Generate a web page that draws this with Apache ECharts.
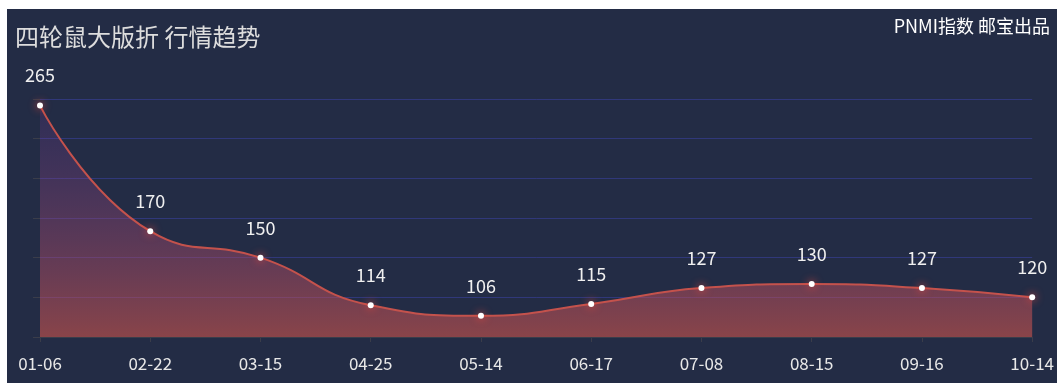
<!DOCTYPE html>
<html>
<head>
<meta charset="utf-8">
<script src="https://cdn.jsdelivr.net/npm/echarts@6/dist/echarts.min.js"></script>
<style>
html,body{margin:0;padding:0;background:#ffffff;}
#chart{position:absolute;left:7px;top:9px;width:1050px;height:374px;background:#232c45;}
</style>
</head>
<body>
<div id="chart"></div>
<script>
const categories = ['01-06','02-22','03-15','04-25','05-14','06-17','07-08','08-15','09-16','10-14'];
const values = [265,170,150,114,106,115,127,130,127,120];
const titleText = '四轮鼠大版折 行情趋势';
const subText = 'PNMI指数 邮宝出品';

const font = '"Noto Sans CJK SC", "Noto Sans", sans-serif';
const chart = echarts.init(document.getElementById('chart'));
chart.setOption({
  backgroundColor: '#232c45',
  animation: false,
  textStyle: {fontFamily: font},
  title: [
    {text: titleText, left: 3, top: 11, textStyle: {color: '#dddddd', fontSize: 24, fontWeight: 'normal', fontFamily: font}},
    {text: subText, right: 2, top: 3, textStyle: {color: '#ffffff', fontSize: 18, fontWeight: 'normal', fontFamily: font}}
  ],
  grid: {left: 33, right: 20, top: 90, bottom: 46},
  xAxis: {
    type: 'category',
    boundaryGap: false,
    data: categories,
    axisLine: {lineStyle: {color: '#3a3d4a'}},
    axisTick: {alignWithLabel: true, lineStyle: {color: '#3a3d4a'}},
    axisLabel: {color: '#e8e8e8', fontSize: 17, margin: 18, fontFamily: font}
  },
  yAxis: {
    type: 'value',
    min: 90, max: 270, interval: 30,
    axisLine: {show: false},
    axisTick: {show: true, length: 7, lineStyle: {color: '#3a3d4a'}},
    axisLabel: {show: false},
    splitLine: {lineStyle: {color: '#30387a', width: 1}}
  },
  series: [{
    type: 'line',
    smooth: true,
    data: values,
    symbol: 'circle',
    symbolSize: 6,
    itemStyle: {color: '#ffffff', shadowColor: '#ff4a3a', shadowBlur: 8},
    lineStyle: {color: '#c4524c', width: 2},
    areaStyle: {
      color: new echarts.graphic.LinearGradient(0, 0, 0, 1, [
        {offset: 0, color: 'rgba(110,60,160,0.25)'},
        {offset: 1, color: 'rgba(205,84,76,0.86)'}
      ])
    },
    label: {show: true, position: 'top', distance: 18, color: '#f0f0f0', fontSize: 18, fontFamily: font}
  }]
});
</script>
</body>
</html>
